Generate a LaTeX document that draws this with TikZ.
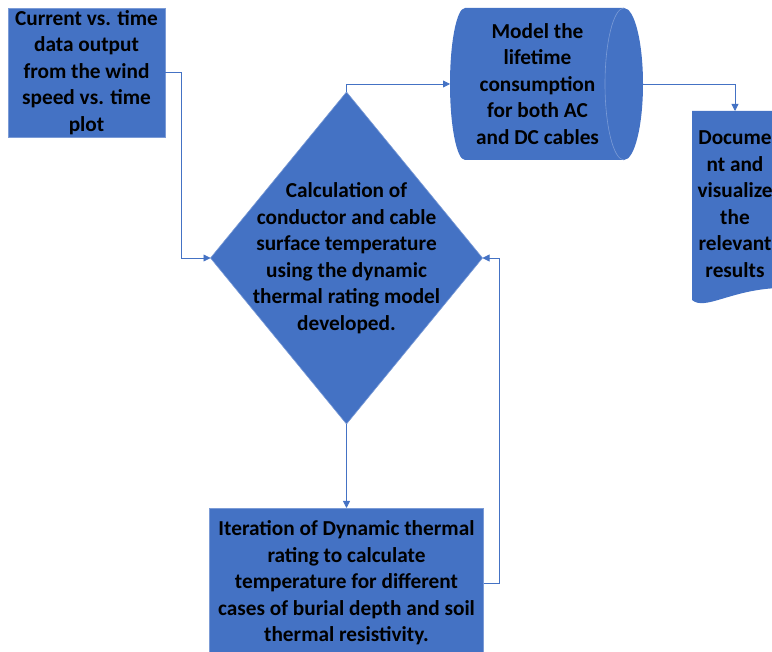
\documentclass[tikz,border=0pt]{standalone}
\usepackage{fontspec}
\setmainfont{Carlito}
\usetikzlibrary{shapes.geometric,arrows.meta,calc}
\definecolor{boxblue}{HTML}{4472C4}
\definecolor{rimblue}{HTML}{7B9BD6}
\begin{document}
\begin{tikzpicture}[x=1pt, y=-1pt,
    txt/.style={align=center, font=\fontsize{21.3}{26.5}\selectfont\bfseries, inner sep=0pt, outer sep=0pt},
    box/.style={txt, rectangle, fill=boxblue, draw=rimblue, line width=0.6pt},
    flow/.style={draw=boxblue, line width=0.8pt, -{Triangle[width=7pt,length=7pt]}}]
    \useasboundingbox (0,0) rectangle (772,652);

    % input data and main calculation
    \node[box, minimum width=157pt, minimum height=129pt] (data) at (86.5,72.5)
        {Current vs. time\\data output\\from the wind\\speed vs. time\\plot};
    \node[diamond, shape aspect=0.82, fill=boxblue, draw=rimblue, line width=0.6pt,
        minimum width=272pt, minimum height=332pt, inner sep=0pt, outer sep=0pt] (dtr) at (346.5,258) {};
    \node[txt] (dtrtext) at (dtr.center)
        {Calculation of\\conductor and cable\\surface temperature\\using the dynamic\\thermal rating model\\developed.};

    % lifetime model (direct access storage)
    \node[txt, minimum width=193pt, minimum height=152pt] (store) at (546.5,84) {};
    \fill[boxblue] ($(store.north east)+(-19,0)$)
        arc[start angle=90, end angle=-90, x radius=19pt, y radius=76pt]
        -- ($(store.south west)+(15,0)$)
        arc[start angle=-90, end angle=-270, x radius=15pt, y radius=76pt] -- cycle;
    \draw[rimblue, line width=0.6pt] ($(store.north east)+(-19,0)$)
        arc[start angle=90, end angle=270, x radius=19pt, y radius=76pt];
    \node[txt] (storetext) at ($(store.center)+(-9,0)$)
        {Model the\\lifetime\\consumption\\for both AC\\and DC cables};

    % documentation (document shape)
    \node[txt, text width=86pt, minimum height=184pt] (doc) at (735,203) {};
    \fill[boxblue] (doc.north west) -- (doc.north east) -- ($(doc.south east)+(0,-7)$)
        .. controls ($(doc.south)+(-5,-5)$) and ($(doc.south)+(-30,16)$) .. ($(doc.south west)+(0,5)$) -- cycle;
    \node[txt] (doctext) at ($(doc.center)+(0,1)$)
        {Docume\\nt and\\visualize\\the\\relevant\\results};

    % iteration
    \node[box, minimum width=274pt, minimum height=150pt] (iter) at (346.5,583)
        {Iteration of Dynamic thermal\\rating to calculate\\temperature for different\\cases of burial depth and soil\\thermal resistivity.};

    \draw[flow] (data.east) -- ++(16,0) |- (dtr.west);
    \draw[flow] (dtr.north) |- (store.west);
    \draw[flow] (store.east) -| (doc.north);
    \draw[flow] (dtr.south) -- (iter.north);
    \draw[flow] (iter.east) -- ++(16,0) |- (dtr.east);
\end{tikzpicture}
\end{document}
